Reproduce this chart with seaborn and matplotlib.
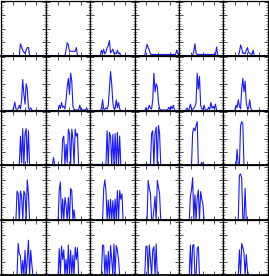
import numpy as np
import pandas as pd
import matplotlib
matplotlib.use("Agg")
import matplotlib.pyplot as plt
from matplotlib.ticker import AutoMinorLocator
import seaborn as sns

# values in percent of panel height, 40 samples per panel, rows top->bottom, cols left->right
r0c0 = [0]*17 + [22,16,10,6,4,10,15,15] + [0]*15
r0c1 = [0]*18 + [10,24,20,8,8,8,8,8,8,15] + [0]*12
r0c2 = [0]*10 + [10,4,12,3,6,15,18,28,5,8,12,4,5,3,10,3,5] + [0]*13
r0c3 = [0]*10 + [12,21,15,10,3] + [2]*22 + [10,4,0]
r0c4 = [0]*13 + [8,22,4] + [2]*17 + [16,0] + [0]*5
r0c5 = [0]*14 + [6,20,14,4,5,3,10,15,6,4,3,2,10,0] + [0]*12

r1c0 = [0]*11 + [5,16,3,2,4,10,3,20,58,30,12,50,40,4,2,5,0] + [0]*12
r1c1 = [0]*12 + [10,4,15,6,8,3,20,45,60,30,70,55,8,2,1,1,1,1,10,1,1,1,1,1,5,0] + [0]*2
r1c2 = [0]*10 + [4,20,3,2,5,3,10,40,73,50,15,4,3,20,5,15,3,0] + [0]*12
r1c3 = [0]*10 + [5,2,3,10,4,3,20,70,35,50,45,15,3] + [1]*7 + [6,2,8,3,10,2] + [0]*4
r1c4 = [0]*7 + [5,1,2,12,3,2,4,8,15,70,40,64,10,3,2,10,2,1,1,6,2,15,4,8,3,12,0] + [0]*6
r1c5 = [0]*11 + [10,5,20,8,3,40,60,35,55,15,4,3,20,5,0] + [0]*14

r2c0 = [0]*17 + [55,5,69,0,60,69,5,65] + [0]*15
r2c1 = [0]*7 + [15] + [0]*7 + [50,55,0,40,5,68,60,0,68,50,0,68,55,60] + [0]*11
r2c2 = [2]*15 + [65,0,62,55,0,58,0,60,0,62,0,55,0] + [0]*12
r2c3 = [0]*8 + [2]*7 + [60,65,0,60,72,0,75,60,0] + [0]*16
r2c4 = [0]*12 + [62,70,65,75,82,0,0,0,6] + [0]*19
r2c5 = [0]*12 + [30,0,0,75,82,78] + [0]*22

r3c0 = [0]*14 + [55,50,0,55,45,0,55,50,0,76,50,0] + [0]*14
r3c1 = [0]*12 + [57,72,0,40,0,43,28,0,43,0,60,55,0,20,0] + [0]*13
r3c2 = [0]*12 + [60,76,55,0,38,0,40,0,37,0,40,0,56,0,56,40,50] + [0]*11
r3c3 = [0]*12 + [75,60,50,0,0,20,45,0,75,62,50,0] + [0]*16
r3c4 = [0]*10 + [45,57,80,0,48,0,43,57,0,54,40,30] + [0]*18
r3c5 = [0]*14 + [85,87,80,0,0,60] + [0]*20

r4c0 = [0]*15 + [60,40,37,0,28,0,47,0,30,66,0,47,20] + [0]*12
r4c1 = [0]*12 + [50,0,55,30,48,0,30,0,57,0,47,0,38,0,53,30,52] + [0]*11
r4c2 = [0]*11 + [57,56,0,38,0,45,0,56,30,0,59,0,56,47,30] + [0]*14
r4c3 = [0]*10 + [54,55,0,57,30,0,48,54,0,59,0] + [0]*19
r4c4 = [0]*10 + [57,0,56,58,0,0,50,54,0] + [0]*21
r4c5 = [0]*14 + [48,0,60,52,42,0,39,10] + [0]*18

panels = [
    [r0c0, r0c1, r0c2, r0c3, r0c4, r0c5],
    [r1c0, r1c1, r1c2, r1c3, r1c4, r1c5],
    [r2c0, r2c1, r2c2, r2c3, r2c4, r2c5],
    [r3c0, r3c1, r3c2, r3c3, r3c4, r3c5],
    [r4c0, r4c1, r4c2, r4c3, r4c4, r4c5],
]

sns.set_style("ticks")
plt.rcParams["font.family"] = ["DejaVu Sans"]

fig, axes = plt.subplots(5, 6, figsize=(2.69, 2.76), dpi=100,
                         gridspec_kw=dict(wspace=0, hspace=0, left=0.004, right=0.996,
                                          bottom=0.002, top=0.998))
for r in range(5):
    for c in range(6):
        ax = axes[r, c]
        vals = panels[r][c]
        df = pd.DataFrame({"x": np.arange(len(vals)), "y": vals})
        sns.lineplot(data=df, x="x", y="y", ax=ax, color="#0000ff",
                     linewidth=0.8, estimator=None, alpha=0.9)
        ax.set_xlim(0, 39)
        ax.set_ylim(0, 103)
        ax.set_xticks([10.5, 20.7, 31.0])
        ax.set_yticks([0, 25, 50, 75, 100])
        ax.yaxis.set_minor_locator(AutoMinorLocator(5))
        ax.tick_params(which="both", direction="in", top=True, right=True,
                       labelbottom=False, labelleft=False, color="#333333")
        ax.tick_params(which="major", length=3, width=0.6)
        ax.tick_params(which="minor", length=1.5, width=0.4)
        ax.set_xlabel("")
        ax.set_ylabel("")
        for s in ax.spines.values():
            s.set_linewidth(0.9)
            s.set_color("black")
        ax.spines["bottom"].set_linewidth(1.3)

fig.savefig("out.png", dpi=100)
